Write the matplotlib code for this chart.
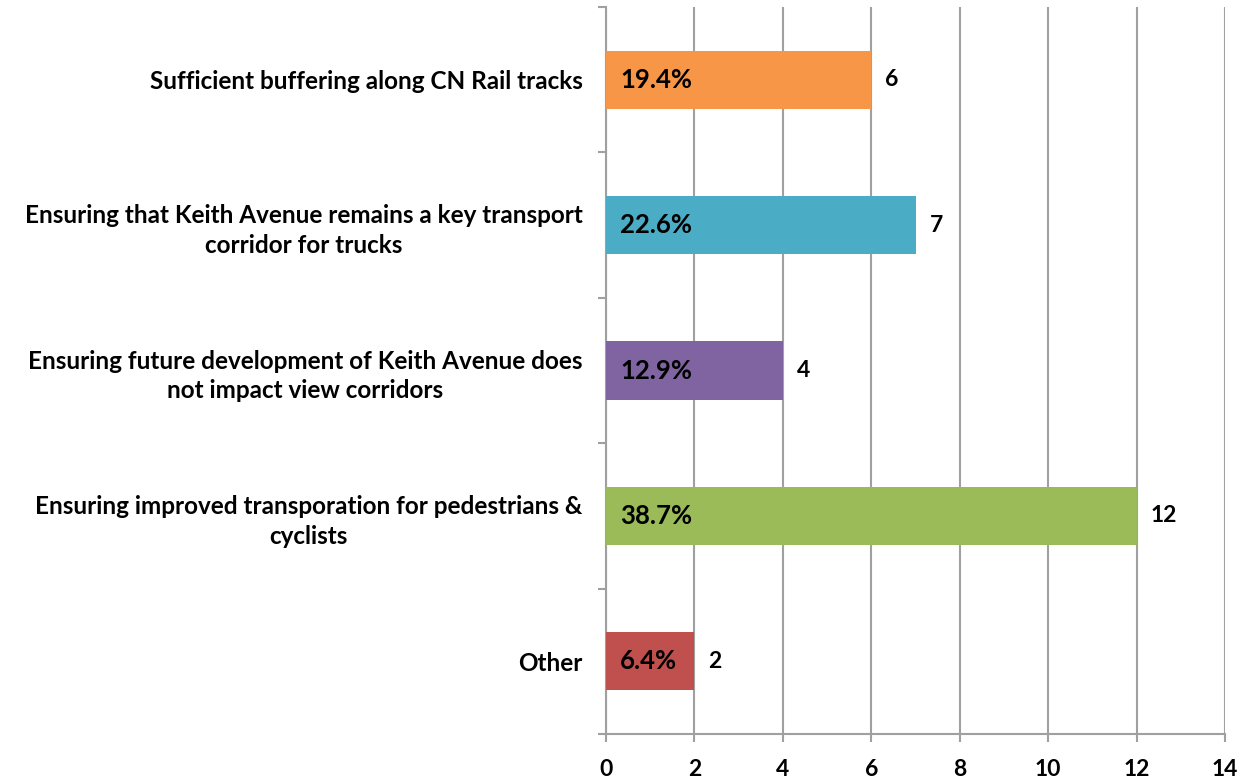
import matplotlib
matplotlib.use("Agg")
import matplotlib.pyplot as plt
from matplotlib.ticker import FixedLocator

categories = [
    "Sufficient buffering along CN Rail tracks",
    "Ensuring that Keith Avenue remains a key transport\ncorridor for trucks",
    "Ensuring future development of Keith Avenue does\nnot impact view corridors",
    "Ensuring improved transporation for pedestrians &\ncyclists",
    "Other",
]
counts = [6, 7, 4, 12, 2]
percents = ["19.4%", "22.6%", "12.9%", "38.7%", "6.4%"]
colors = ["#F79646", "#4BACC6", "#8064A2", "#9BBB59", "#C0504D"]
x_ticks = [0, 2, 4, 6, 8, 10, 12, 14]

plt.rcParams["font.family"] = ["Lato", "DejaVu Sans"]
plt.rcParams["font.weight"] = "bold"

fig = plt.figure(figsize=(12.5, 7.81), dpi=100)
ax = fig.add_axes([0.4848, 0.0602, 0.98 - 0.4848, 0.991 - 0.0602])

grid_col = "#A0A0A0"
ypos = list(range(len(categories)))
ax.barh(ypos, counts, height=0.4, color=colors, zorder=3)

for y, c, p in zip(ypos, counts, percents):
    ax.annotate(p, xy=(0, y), xytext=(10, 0), textcoords="offset points",
                ha="left", va="center", fontsize=18.5, fontweight="bold",
                color="black", zorder=4)
    ax.annotate(str(c), xy=(c, y), xytext=(10, 0), textcoords="offset points",
                ha="left", va="center", fontsize=16.5, fontweight="bold",
                color="black", zorder=4)

ax.set_xlim(0, 14)
ax.set_ylim(len(categories) - 0.5, -0.5)
ax.set_xticks(x_ticks)
ax.set_xticklabels([str(t) for t in x_ticks], fontsize=16.5, fontweight="bold")
ax.xaxis.grid(True, color=grid_col, linewidth=1.5, zorder=0)

ax.set_yticks(ypos)
ax.set_yticklabels(categories, fontsize=17.5, fontweight="bold",
                   multialignment="center", linespacing=1.35)
ax.yaxis.set_minor_locator(FixedLocator([i - 0.5 for i in range(len(categories) + 1)]))
ax.tick_params(axis="y", which="major", length=0, pad=17)
ax.tick_params(axis="y", which="minor", length=6, width=1.5, color=grid_col)
ax.tick_params(axis="x", which="major", length=6, width=1.5, color=grid_col, pad=12)

for side in ["top", "right"]:
    ax.spines[side].set_visible(False)
for side in ["left", "bottom"]:
    ax.spines[side].set_color(grid_col)
    ax.spines[side].set_linewidth(1.5)

fig.savefig("out.png", dpi=100, facecolor="white")
